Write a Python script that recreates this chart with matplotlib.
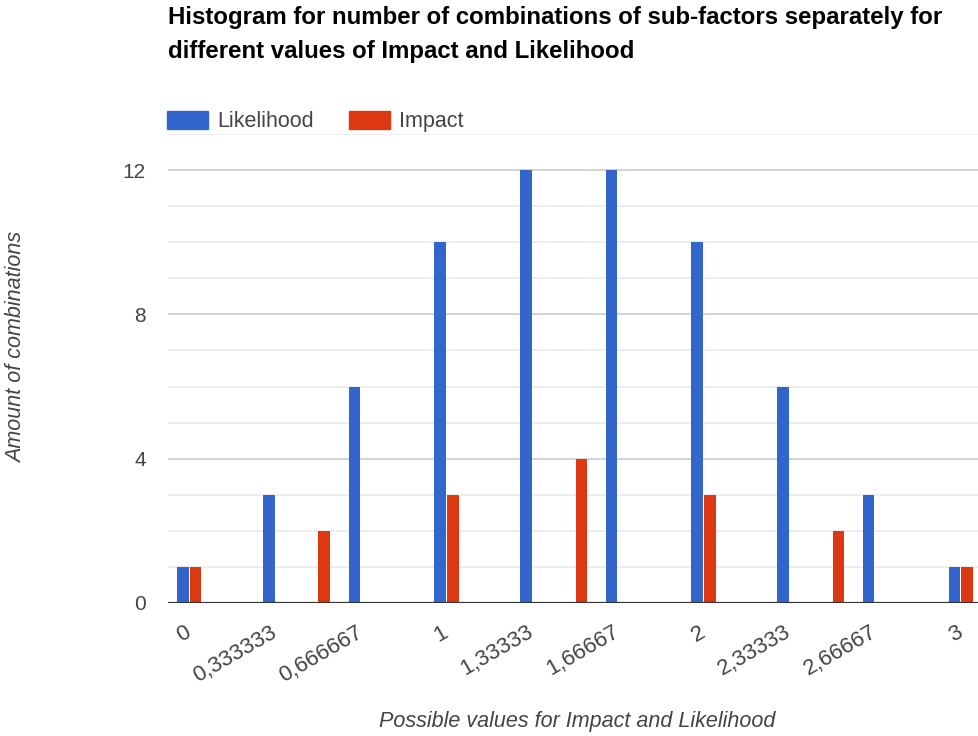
import numpy as np
import matplotlib
matplotlib.use('Agg')
import matplotlib.pyplot as plt
from matplotlib.patches import Patch

# Data
lik_x = [0, 0.333333, 0.666667, 1, 1.33333, 1.66667, 2, 2.33333, 2.66667, 3]
lik_counts = [1, 3, 6, 10, 12, 12, 10, 6, 3, 1]
imp_x = [0, 0.5, 1, 1.5, 2, 2.5, 3]
imp_counts = [1, 2, 3, 4, 3, 2, 1]
tick_vals = lik_x
tick_labels = ['0', '0,333333', '0,666667', '1', '1,33333', '1,66667',
               '2', '2,33333', '2,66667', '3']

blue = '#3366cc'
red = '#dc3912'
txt = '#444444'

plt.rcParams['font.family'] = ['Liberation Sans', 'DejaVu Sans']

W, H = 979, 736
fig = plt.figure(figsize=(W / 100, H / 100), dpi=100)
ax = fig.add_axes([168 / W, 133 / H, (982 - 168) / W, 469 / H])

slot = 0.0492
bw = 0.045
ax.bar(np.array(lik_x) - slot / 2, lik_counts, width=bw, color=blue, zorder=3)
ax.bar(np.array(imp_x) + slot / 2, imp_counts, width=bw, color=red, zorder=3)

ax.set_xlim(-0.083, 3.083)
ax.set_ylim(0, 13)

# gridlines: light every 1, darker every 4
for v in range(1, 14):
    c = '#cccccc' if v % 4 == 0 else '#ebebeb'
    ax.axhline(v, color=c, lw=1.2, zorder=1)
ax.axhline(0, color='#333333', lw=1.6, zorder=4)

ax.set_yticks([0, 4, 8, 12])
ax.set_xticks(tick_vals)
ax.set_xticklabels(tick_labels, rotation=30, ha='right', va='center',
                   rotation_mode='anchor')
ax.tick_params(axis='both', length=0, labelsize=15, colors=txt)
ax.tick_params(axis='x', labelsize=16, pad=20)
ax.tick_params(axis='y', pad=16)
for s in ax.spines.values():
    s.set_visible(False)

fig.text(168 / W, 1 - 6 / H,
         'Histogram for number of combinations of sub-factors separately for\n'
         'different values of Impact and Likelihood',
         ha='left', va='top', fontsize=17.3, fontweight='bold', color='black',
         linespacing=1.62)

fig.legend(handles=[Patch(color=blue, label='Likelihood'),
                    Patch(color=red, label='Impact')],
           loc='upper left', bbox_to_anchor=(167 / W, 1 - 111 / H), ncol=2,
           frameon=False, fontsize=15.5, handlelength=1.9, handleheight=0.92,
           handletextpad=0.45, columnspacing=1.6, borderpad=0, borderaxespad=0,
           labelcolor=txt)

fig.text(17 / W, 1 - 347 / H, 'Amount of combinations', rotation=90,
         ha='center', va='center', fontsize=15.5, style='italic', color=txt)
fig.text(577 / W, 1 - 722 / H, 'Possible values for Impact and Likelihood',
         ha='center', va='center', fontsize=15.5, style='italic', color=txt)

fig.savefig('out.png', dpi=100)
